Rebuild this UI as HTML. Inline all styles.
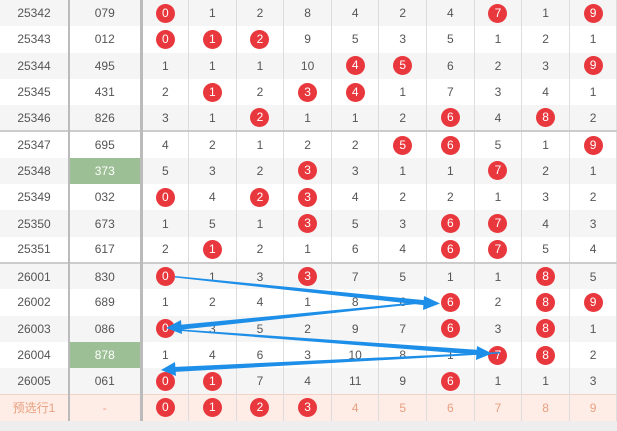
<!DOCTYPE html>
<html><head><meta charset="utf-8"><style>
body{margin:0;width:617px;height:431px;overflow:hidden;background:#eee;font-family:"Liberation Sans","Noto Sans CJK SC",sans-serif;position:relative}
table{border-collapse:collapse;table-layout:fixed;position:absolute;left:0;top:0;width:617px}
td{height:26.3px;padding:0;text-align:center;font-size:12px;color:#555;border-right:1px solid #ddd;box-sizing:border-box}
tr:nth-child(odd) td{background:#f5f5f5}
tr:nth-child(even) td{background:#fff}
td.c1{border-right:2px solid #bbb}
td.c2{border-right:3px solid #bbb}
tr.sep td{border-top:2px solid #ccc}
td.g{background:#9dbf95!important;color:#fff}
b{display:inline-block;width:19px;height:19px;line-height:19px;border-radius:50%;background:#e8383d;color:#fff;font-weight:normal}
tr.p td{background:#fdede6!important;color:#e8a080;border-top:1px solid #f3d3c8}
</style></head><body>
<table>
<colgroup><col style="width:69px"><col style="width:72px"><col span="10" style="width:47.6px"></colgroup>
<tr><td class="c1">25342</td><td class="c2">079</td><td><b>0</b></td><td>1</td><td>2</td><td>8</td><td>4</td><td>2</td><td>4</td><td><b>7</b></td><td>1</td><td><b>9</b></td></tr>
<tr><td class="c1">25343</td><td class="c2">012</td><td><b>0</b></td><td><b>1</b></td><td><b>2</b></td><td>9</td><td>5</td><td>3</td><td>5</td><td>1</td><td>2</td><td>1</td></tr>
<tr><td class="c1">25344</td><td class="c2">495</td><td>1</td><td>1</td><td>1</td><td>10</td><td><b>4</b></td><td><b>5</b></td><td>6</td><td>2</td><td>3</td><td><b>9</b></td></tr>
<tr><td class="c1">25345</td><td class="c2">431</td><td>2</td><td><b>1</b></td><td>2</td><td><b>3</b></td><td><b>4</b></td><td>1</td><td>7</td><td>3</td><td>4</td><td>1</td></tr>
<tr><td class="c1">25346</td><td class="c2">826</td><td>3</td><td>1</td><td><b>2</b></td><td>1</td><td>1</td><td>2</td><td><b>6</b></td><td>4</td><td><b>8</b></td><td>2</td></tr>
<tr class="sep"><td class="c1">25347</td><td class="c2">695</td><td>4</td><td>2</td><td>1</td><td>2</td><td>2</td><td><b>5</b></td><td><b>6</b></td><td>5</td><td>1</td><td><b>9</b></td></tr>
<tr><td class="c1">25348</td><td class="c2 g">373</td><td>5</td><td>3</td><td>2</td><td><b>3</b></td><td>3</td><td>1</td><td>1</td><td><b>7</b></td><td>2</td><td>1</td></tr>
<tr><td class="c1">25349</td><td class="c2">032</td><td><b>0</b></td><td>4</td><td><b>2</b></td><td><b>3</b></td><td>4</td><td>2</td><td>2</td><td>1</td><td>3</td><td>2</td></tr>
<tr><td class="c1">25350</td><td class="c2">673</td><td>1</td><td>5</td><td>1</td><td><b>3</b></td><td>5</td><td>3</td><td><b>6</b></td><td><b>7</b></td><td>4</td><td>3</td></tr>
<tr><td class="c1">25351</td><td class="c2">617</td><td>2</td><td><b>1</b></td><td>2</td><td>1</td><td>6</td><td>4</td><td><b>6</b></td><td><b>7</b></td><td>5</td><td>4</td></tr>
<tr class="sep"><td class="c1">26001</td><td class="c2">830</td><td><b>0</b></td><td>1</td><td>3</td><td><b>3</b></td><td>7</td><td>5</td><td>1</td><td>1</td><td><b>8</b></td><td>5</td></tr>
<tr><td class="c1">26002</td><td class="c2">689</td><td>1</td><td>2</td><td>4</td><td>1</td><td>8</td><td>6</td><td><b>6</b></td><td>2</td><td><b>8</b></td><td><b>9</b></td></tr>
<tr><td class="c1">26003</td><td class="c2">086</td><td><b>0</b></td><td>3</td><td>5</td><td>2</td><td>9</td><td>7</td><td><b>6</b></td><td>3</td><td><b>8</b></td><td>1</td></tr>
<tr><td class="c1">26004</td><td class="c2 g">878</td><td>1</td><td>4</td><td>6</td><td>3</td><td>10</td><td>8</td><td>1</td><td><b>7</b></td><td><b>8</b></td><td>2</td></tr>
<tr><td class="c1">26005</td><td class="c2">061</td><td><b>0</b></td><td><b>1</b></td><td>7</td><td>4</td><td>11</td><td>9</td><td><b>6</b></td><td>1</td><td>1</td><td>3</td></tr>
<tr class="p"><td class="c1">预选行1</td><td class="c2">-</td><td><b>0</b></td><td><b>1</b></td><td><b>2</b></td><td><b>3</b></td><td>4</td><td>5</td><td>6</td><td>7</td><td>8</td><td>9</td></tr>
</table>
<svg width="617" height="431" style="position:absolute;left:0;top:0">
<g fill="#1e8fe8">
<polygon points="175,276 428,300.5 427,305.5 175,277.5"/><polygon points="440,303.5 424,296 423,310"/>
<polygon points="430,301 178,325 178,330 430,302.5"/><polygon points="166,328 181,320 182,334"/>
<polygon points="175,329 480,350 480,355 175,330.5"/><polygon points="492,353.5 477,346 476,360"/>
<polygon points="500,352 173,367 173,372 500,353.5"/><polygon points="161,370 175,362 176,376"/>
</g></svg>
</body></html>
